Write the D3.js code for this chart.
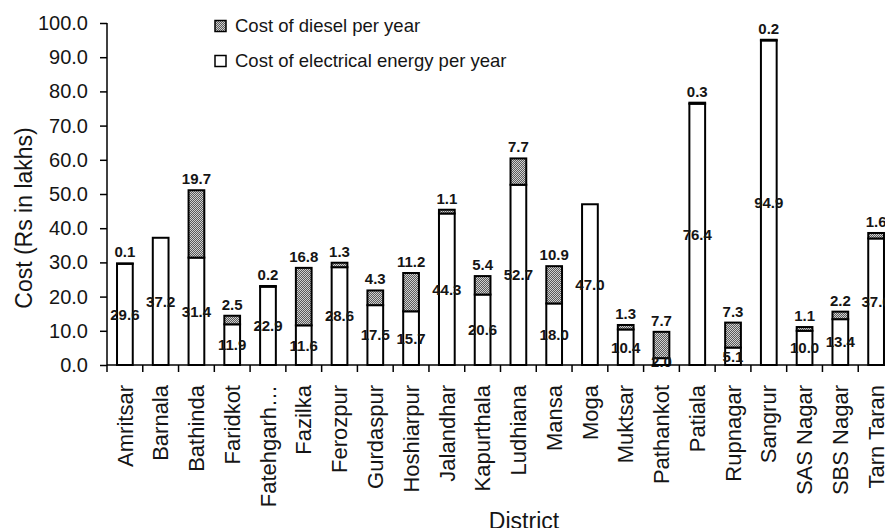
<!DOCTYPE html>
<html><head><meta charset="utf-8">
<script src="https://cdn.jsdelivr.net/npm/d3@7"></script>
<style>body{margin:0;background:#fff;} svg{display:block;font-family:"Liberation Sans",Arial,sans-serif;}</style>
</head><body>
<script>
const districts = ["Amritsar","Barnala","Bathinda","Faridkot","Fatehgarh…","Fazilka","Ferozpur","Gurdaspur","Hoshiarpur","Jalandhar","Kapurthala","Ludhiana","Mansa","Moga","Muktsar","Pathankot","Patiala","Rupnagar","Sangrur","SAS Nagar","SBS Nagar","Tarn Taran"];
const electricCost = [29.6,37.2,31.4,11.9,22.9,11.6,28.6,17.5,15.7,44.3,20.6,52.7,18.0,47.0,10.4,2.0,76.4,5.1,94.9,10.0,13.4,37.0];
const dieselCost = [0.1,null,19.7,2.5,0.2,16.8,1.3,4.3,11.2,1.1,5.4,7.7,10.9,null,1.3,7.7,0.3,7.3,0.2,1.1,2.2,1.6];
const yTicks = [0,10,20,30,40,50,60,70,80,90,100];
const seriesNames = ["Cost of diesel per year","Cost of electrical energy per year"];

const W = 885, H = 528;
const TXT = "#151515";
const svg = d3.select("body").append("svg").attr("width", W).attr("height", H);

const defs = svg.append("defs");
const pat = defs.append("pattern").attr("id","dots").attr("patternUnits","userSpaceOnUse").attr("width",2).attr("height",2);
pat.append("rect").attr("width",2).attr("height",2).attr("fill","#5a5a5a");
pat.append("rect").attr("x",0).attr("y",0).attr("width",1).attr("height",1).attr("fill","#d0d0d0");
pat.append("rect").attr("x",1).attr("y",1).attr("width",1).attr("height",1).attr("fill","#d0d0d0");

const x = d3.scaleBand().domain(districts).range([107, 894]).paddingInner(0.56).paddingOuter(0.28);
const y = d3.scaleLinear().domain([0,100]).range([365, 23]);
const step = x.step();

// bars
const g = svg.append("g");
districts.forEach((d,i) => {
  const e = electricCost[i], s = dieselCost[i];
  g.append("rect").attr("x", x(d)).attr("y", y(e)).attr("width", x.bandwidth()).attr("height", y(0)-y(e))
    .attr("fill","#fff").attr("stroke","#000").attr("stroke-width",2);
  if (s != null) {
    g.append("rect").attr("x", x(d)).attr("y", y(e+s)).attr("width", x.bandwidth()).attr("height", y(e)-y(e+s))
      .attr("fill","url(#dots)").attr("stroke","#000").attr("stroke-width",2);
  }
});
// labels
districts.forEach((d,i) => {
  const e = electricCost[i], s = dieselCost[i];
  const cx = x(d) + x.bandwidth()/2;
  g.append("text").attr("x", cx).attr("y", y(e/2)).attr("dy","0.36em").attr("text-anchor","middle")
    .attr("font-size",15).attr("font-weight","bold").attr("fill",TXT).text(e.toFixed(1));
  if (s != null) {
    g.append("text").attr("x", cx).attr("y", y(e+s) - 6).attr("text-anchor","middle")
      .attr("font-size",15).attr("font-weight","bold").attr("fill",TXT).text(s.toFixed(1));
  }
});

// y axis
const yAxis = d3.axisLeft(y).tickValues(yTicks).tickSize(7).tickPadding(12).tickFormat(d3.format(".1f"));
const ya = svg.append("g").attr("transform","translate(107,0)").call(yAxis);
ya.selectAll("text").attr("font-size",20).attr("fill",TXT).attr("font-family","Liberation Sans, Arial, sans-serif");
ya.selectAll("line,path").attr("stroke","#000").attr("stroke-width",1.5);
ya.select(".domain").attr("d","M0,23V365");

// x axis
const xAxis = d3.axisBottom(x).tickSize(0).tickPadding(0);
const xa = svg.append("g").attr("transform","translate(0,365)").call(xAxis);
xa.select(".domain").attr("d", "M107,0H" + W).attr("stroke","#000").attr("stroke-width",1.5);
xa.selectAll(".tick text").attr("font-size",22).attr("fill",TXT).attr("font-family","Liberation Sans, Arial, sans-serif")
  .attr("text-anchor","end").attr("transform","translate(0,20) rotate(-90)").attr("dy","0.35em").attr("x",0).attr("y",0);
// boundary ticks
districts.forEach((d,i) => {
  const bx = x(d) - (step - x.bandwidth())/2;
  xa.append("line").attr("x1",bx).attr("x2",bx).attr("y1",0).attr("y2",7).attr("stroke","#000").attr("stroke-width",1.5);
});

// axis titles
svg.append("text").attr("transform","translate(32,218) rotate(-90)").attr("text-anchor","middle")
  .attr("font-size",23).attr("fill",TXT).text("Cost (Rs in lakhs)");
svg.append("text").attr("x",524).attr("y",529).attr("text-anchor","middle")
  .attr("font-size",23).attr("fill",TXT).text("District");

// legend
const leg = svg.append("g");
const fills = ["url(#dots)","#fff"];
seriesNames.forEach((n,i) => {
  const ly = 26 + i*35;
  leg.append("rect").attr("x",215).attr("y",ly-5.5).attr("width",11).attr("height",11)
    .attr("fill",fills[i]).attr("stroke","#000").attr("stroke-width",1.5);
  leg.append("text").attr("x",235).attr("y",ly).attr("dy","0.35em").attr("font-size",18.5).attr("fill",TXT).text(n);
});
</script>
</body></html>
